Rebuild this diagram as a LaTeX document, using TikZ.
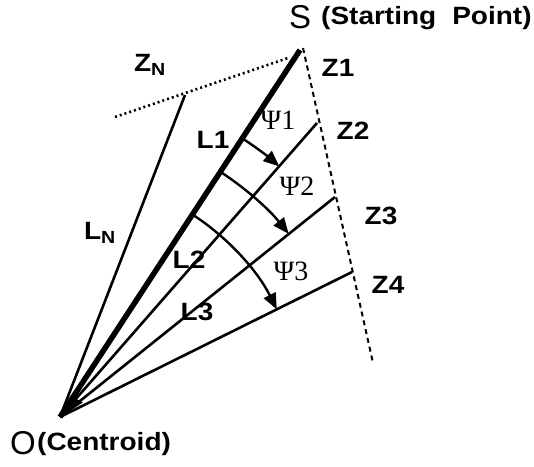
\documentclass[tikz,border=0pt]{standalone}
\usepackage{fontspec}
\setmainfont{Liberation Sans}
\newfontfamily\psifont{Liberation Serif}
\newfontfamily\lblfont[FakeStretch=1.12]{Liberation Sans Bold}
\usetikzlibrary{arrows.meta,calc}
\begin{document}
\begin{tikzpicture}[x=1pt,y=1pt,
  ray/.style={line width=2.6pt},
  thickray/.style={line width=5.5pt},
  anglearc/.style={line width=2.4pt,-{Triangle[length=16pt,width=13pt]}},
  lbl/.style={font=\lblfont\fontsize{25}{27}\selectfont,inner sep=0pt},
  psilbl/.style={font=\psifont\fontsize{28}{30}\selectfont,inner sep=0pt},
  big/.style={font=\fontsize{33}{35}\selectfont,inner sep=0pt}]
\useasboundingbox (0,0) rectangle (534,466);
% points
\coordinate (O) at (60,49);
\coordinate (S) at (300,416);
\coordinate (Z2) at (317,343);
\coordinate (Z3) at (335,269);
\coordinate (Z4) at (352,194);
\coordinate (ZN) at (185,371);
\coordinate (DT) at (303,418);
\coordinate (DB) at (373,103);
\coordinate (PT) at (288,408);
\coordinate (PL) at (115,349);
% boundary lines
\draw[line width=2pt,dash pattern=on 5pt off 4pt] (DT) -- (DB);
\draw[line width=2.6pt,dash pattern=on 2pt off 3pt] (PL) -- (PT);
% rays
\draw[thickray] (O) -- (S);
\draw[ray] (O) -- (Z2);
\draw[ray] (O) -- (Z3);
\draw[ray] (O) -- (Z4);
\draw[ray] (O) -- (ZN);
\fill (O) -- ++(54:24) -- ++(-30:10) -- cycle;
% angle arcs
\draw[anglearc] ($(O)+(56.8:333)$) arc[start angle=56.8,end angle=48.8,radius=333];
\draw[anglearc] ($(O)+(56.8:293)$) arc[start angle=56.8,end angle=38.7,radius=293];
\draw[anglearc] ($(O)+(56.8:242)$) arc[start angle=56.8,end angle=26.4,radius=242];
% labels
\node[big] (Slbl) at (300,449) {S};
\node[lbl,anchor=west] (SP) at (321,448) {(Starting\hspace{16pt}Point)};
\node[lbl] (ZNl) at (150,401) {Z\textsubscript{N}};
\node[lbl] (Z1l) at (338,398) {Z1};
\node[lbl] (Z2l) at (353,335) {Z2};
\node[lbl] (Z3l) at (381,250) {Z3};
\node[lbl] (Z4l) at (388,181) {Z4};
\node[lbl] (L1l) at (213,326) {L1};
\node[lbl] (L2l) at (189,206) {L2};
\node[lbl] (L3l) at (197,154) {L3};
\node[lbl] (LNl) at (100,233) {L\textsubscript{N}};
\node[psilbl] (P1) at (278,346) {Ψ1};
\node[psilbl] (P2) at (297,280) {Ψ2};
\node[psilbl] (P3) at (291,195) {Ψ3};
\node[big,anchor=west] (Ol) at (10,22.5) {O};
\node[lbl,anchor=west] (Cl) at (37,22) {(Centroid)};
\end{tikzpicture}
\end{document}
